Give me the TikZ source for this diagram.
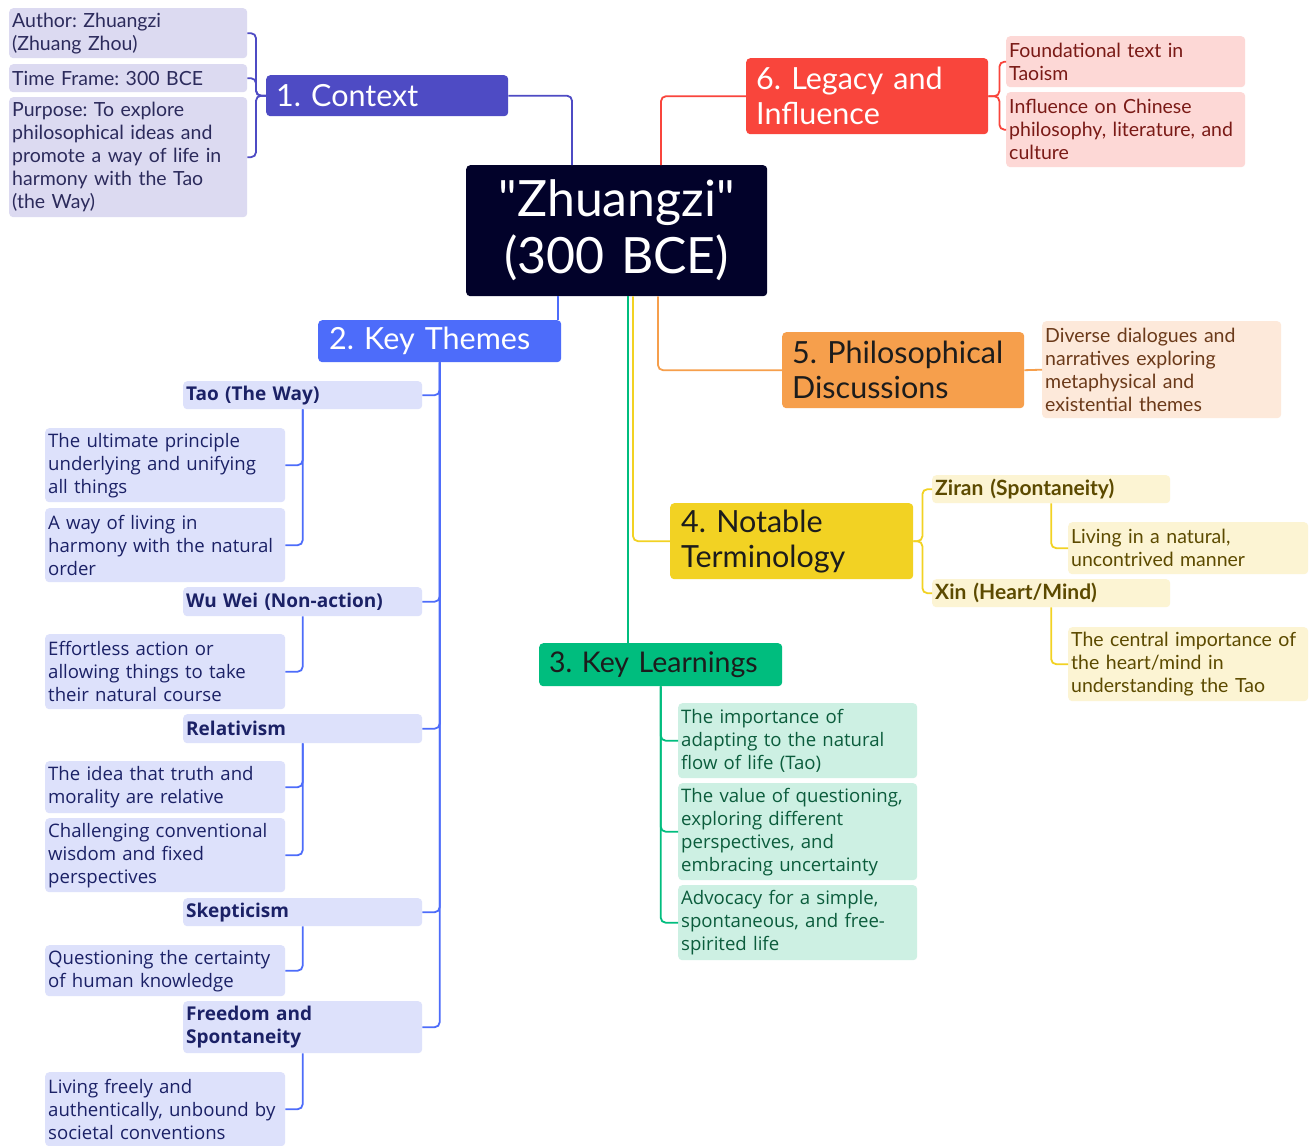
\documentclass[tikz,border=0pt]{standalone}
\usepackage{fontspec}
\setmainfont{Lato}
\newfontfamily\widefont{Open Sans}
\newfontfamily\rootfont{Lato}[Ligatures=TeXOff]
\usetikzlibrary{calc}
\frenchspacing
\hyphenpenalty=10000
\exhyphenpenalty=10000

% branch palette
\definecolor{rootfill}{HTML}{02022A}
\definecolor{ctxmain}{HTML}{4E4BC4}
\definecolor{ctxsoft}{HTML}{DCDAF1}
\definecolor{ctxtext}{HTML}{2C2B5C}
\definecolor{ktmain}{HTML}{4D6CFA}
\definecolor{ktsoft}{HTML}{DDE1FB}
\definecolor{kttext}{HTML}{1B2166}
\definecolor{klmain}{HTML}{00BD7E}
\definecolor{klsoft}{HTML}{CDF0E3}
\definecolor{kltext}{HTML}{0B5C3C}
\definecolor{tmmain}{HTML}{F2D223}
\definecolor{tmsoft}{HTML}{FCF4D3}
\definecolor{tmtext}{HTML}{5C4A00}
\definecolor{phmain}{HTML}{F69F4C}
\definecolor{phsoft}{HTML}{FDE9DA}
\definecolor{phtext}{HTML}{6B3A1A}
\definecolor{lgmain}{HTML}{F9453C}
\definecolor{lgsoft}{HTML}{FDD8D6}
\definecolor{lgtext}{HTML}{7A1A16}
\definecolor{darktext}{HTML}{1C1C1C}

\tikzset{
  card/.style={rounded corners=4pt, inner xsep=0pt, inner ysep=0pt, anchor=north west, align=left},
  dims/.style n args={3}{minimum width=#1, text width=#2, minimum height=#3},
  topic/.style={card, font={\fontsize{30.5}{35}\selectfont}},
  small/.style={card, font={\fontsize{19.5}{23}\selectfont}},
  wide/.style={card, font={\widefont\fontsize{18.6}{23}\selectfont}},
  widebold/.style={card, font={\widefont\bfseries\fontsize{19}{23}\selectfont}},
  smallbold/.style={card, font={\bfseries\fontsize{21}{23}\selectfont}},
  link/.style={line width=1.8pt, rounded corners=5pt},
}

\begin{document}
\begin{tikzpicture}[x=1pt,y=-1pt]
\useasboundingbox[fill=white] (0,0) rectangle (1315,1146);

% root
\node[card, fill=rootfill, text=white, align=center, dims={301}{295}{131},
      font={\rootfont\fontsize{50}{57}\selectfont}] (root) at (466,165) {"Zhuangzi"\\(300 BCE)};

% 1. Context
\node[topic, fill=ctxmain, text=white, dims={242}{222}{41}] (ctx) at (266,75) {1. Context};
\node[small, fill=ctxsoft, text=ctxtext, dims={238}{232}{50}] (ctxa) at (9,8) {Author: Zhuangzi\\(Zhuang Zhou)};
\node[small, fill=ctxsoft, text=ctxtext, dims={238}{232}{28}] (ctxb) at (9,64) {Time Frame: 300 BCE};
\node[small, fill=ctxsoft, text=ctxtext, dims={238}{232}{120}] (ctxc) at (9,97) {Purpose: To explore\\philosophical ideas and\\promote a way of life in\\harmony with the Tao\\(the Way)};

% 2. Key Themes
\node[topic, fill=ktmain, text=white, dims={243}{221}{42}] (kt) at (318,320) {2. Key Themes};
\node[widebold, fill=ktsoft, text=kttext, dims={239}{233}{28}] (kta) at (183,381) {Tao (The Way)};
\node[wide, fill=ktsoft, text=kttext, dims={240}{234}{74}] (kta1) at (45,428) {The ultimate principle\\underlying and unifying\\all things};
\node[wide, fill=ktsoft, text=kttext, dims={240}{234}{74}] (kta2) at (45,508) {A way of living in\\harmony with the natural\\order};
\node[widebold, fill=ktsoft, text=kttext, dims={239}{233}{29}] (ktb) at (183,587) {Wu Wei (Non-action)};
\node[wide, fill=ktsoft, text=kttext, dims={240}{234}{75}] (ktb1) at (45,634) {Effortless action or\\allowing things to take\\their natural course};
\node[widebold, fill=ktsoft, text=kttext, dims={239}{233}{29}] (ktc) at (183,714) {Relativism};
\node[wide, fill=ktsoft, text=kttext, dims={240}{234}{52}] (ktc1) at (45,761) {The idea that truth and\\morality are relative};
\node[wide, fill=ktsoft, text=kttext, dims={240}{234}{74}] (ktc2) at (45,818) {Challenging conventional\\wisdom and fixed\\perspectives};
\node[widebold, fill=ktsoft, text=kttext, dims={239}{233}{28}] (ktd) at (183,898) {Skepticism};
\node[wide, fill=ktsoft, text=kttext, dims={240}{234}{51}] (ktd1) at (45,945) {Questioning the certainty\\of human knowledge};
\node[widebold, fill=ktsoft, text=kttext, dims={239}{233}{52}] (kte) at (183,1001) {Freedom and\\Spontaneity};
\node[wide, fill=ktsoft, text=kttext, dims={240}{234}{74}] (kte1) at (45,1072) {Living freely and\\authentically, unbound by\\societal conventions};

% 3. Key Learnings
\node[topic, fill=klmain, text=darktext, dims={243}{223}{43}, font={\fontsize{28.5}{35}\selectfont}] (kl) at (539,643) {\mbox{3. Key Learnings}};
\node[wide, fill=klsoft, text=kltext, dims={239}{233}{75}] (kla) at (678,703) {The importance of\\adapting to the natural\\flow of life (Tao)};
\node[wide, fill=klsoft, text=kltext, dims={239}{233}{97}] (klb) at (678,783) {The value of questioning,\\exploring different\\perspectives, and\\embracing uncertainty};
\node[wide, fill=klsoft, text=kltext, dims={239}{233}{75}] (klc) at (678,885) {Advocacy for a simple,\\spontaneous, and free-\\spirited life};

% 4. Notable Terminology
\node[topic, fill=tmmain, text=darktext, dims={243}{221}{76}] (tm) at (670,503) {4. Notable\\Terminology};
\node[smallbold, fill=tmsoft, text=tmtext, dims={238}{232}{28}] (tma) at (932,475) {Ziran (Spontaneity)};
\node[small, fill=tmsoft, text=tmtext, dims={240}{234}{52}] (tma1) at (1068,522) {Living in a natural,\\uncontrived manner};
\node[smallbold, fill=tmsoft, text=tmtext, dims={238}{232}{28}] (tmb) at (932,579) {Xin (Heart/Mind)};
\node[small, fill=tmsoft, text=tmtext, dims={240}{234}{74}] (tmb1) at (1068,627) {The central importance of\\the heart/mind in\\understanding the Tao};

% 5. Philosophical Discussions
\node[topic, fill=phmain, text=darktext, dims={242}{222}{76}] (ph) at (782,332) {5. Philosophical\\Discussions};
\node[small, fill=phsoft, text=phtext, dims={239}{233}{97}] (pha) at (1042,321) {Diverse dialogues and\\narratives exploring\\metaphysical and\\existential themes};

% 6. Legacy and Influence
\node[topic, fill=lgmain, text=white, dims={242}{222}{76}] (lg) at (746,58) {6. Legacy and\\Influence};
\node[small, fill=lgsoft, text=lgtext, dims={239}{233}{51}] (lga) at (1006,36) {Foundational text in\\Taoism};
\node[small, fill=lgsoft, text=lgtext, dims={239}{233}{75}] (lgb) at (1006,92) {Influence on Chinese\\philosophy, literature, and\\culture};

% root to main topics
\draw[link, ctxmain] (ctx.east) -| ([xshift=106pt]root.north west);
\draw[link, lgmain] ([xshift=195pt]root.north west) |- (lg.west);
\draw[link, ktmain, rounded corners=0pt] ([xshift=92pt]root.south west) -- ([xshift=92pt]root.south west |- kt.north);
\draw[link, klmain, rounded corners=0pt] ([xshift=162pt]root.south west) -- ([xshift=162pt]root.south west |- kl.north);
\draw[link, tmmain] ([xshift=167pt]root.south west) |- (tm.west);
\draw[link, phmain] ([xshift=192pt]root.south west) |- (ph.west);

% context details
\foreach \c in {ctxa,ctxb,ctxc}
  \draw[link, ctxmain] (ctx.west) -- ++(-10,0) |- (\c.east);

% key themes
\foreach \c in {kta,ktb,ktc,ktd,kte}
  \draw[link, ktmain] (kt.south) |- (\c.east);
\draw[link, ktmain] (kta.south) |- (kta1.east);
\draw[link, ktmain] (kta.south) |- (kta2.east);
\draw[link, ktmain] (ktb.south) |- (ktb1.east);
\draw[link, ktmain] (ktc.south) |- (ktc1.east);
\draw[link, ktmain] (ktc.south) |- (ktc2.east);
\draw[link, ktmain] (ktd.south) |- (ktd1.east);
\draw[link, ktmain] (kte.south) |- (kte1.east);

% key learnings
\foreach \c in {kla,klb,klc}
  \draw[link, klmain] (kl.south) |- (\c.west);

% terminology
\foreach \c in {tma,tmb}
  \draw[link, tmmain] (tm.east) -- ++(9,0) |- (\c.west);
\draw[link, tmmain] (tma.south) |- (tma1.west);
\draw[link, tmmain] (tmb.south) |- (tmb1.west);

% philosophical discussions
\draw[link, phmain] (ph.east) -- (pha.west);

% legacy
\foreach \c in {lga,lgb}
  \draw[link, lgmain] (lg.east) -- ++(11,0) |- (\c.west);

\end{tikzpicture}
\end{document}
